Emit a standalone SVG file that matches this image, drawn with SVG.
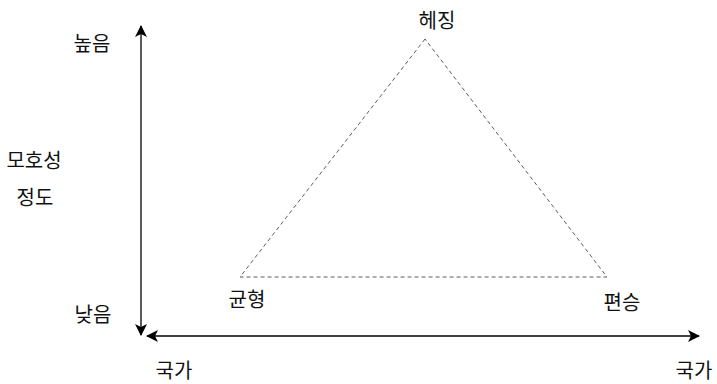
<svg xmlns="http://www.w3.org/2000/svg" width="717" height="384" viewBox="0 0 717 384">
<style>
text{font-family:"Noto Sans CJK KR","Noto Sans CJK SC",sans-serif;font-size:20px;fill:#111;text-anchor:middle}
.axis{stroke:#000;stroke-width:1.3;fill:none}
.tri{stroke:#333;stroke-width:0.8;stroke-dasharray:4 3;fill:none}
</style>
<defs>
<marker id="ah" viewBox="0 0 12 12" refX="11" refY="6" markerWidth="12" markerHeight="12" markerUnits="userSpaceOnUse" orient="auto-start-reverse">
<path d="M0,0 L12,6 L0,12 L3,6 Z" fill="#000"/>
</marker>
</defs>
<rect width="717" height="384" fill="#fff"/>
<g id="connectors">
<line class="axis" x1="141" y1="26" x2="141" y2="335" marker-start="url(#ah)" marker-end="url(#ah)"/>
<line class="axis" x1="147" y1="336" x2="699" y2="336" marker-start="url(#ah)" marker-end="url(#ah)"/>
</g>
<g id="triangle">
<polygon class="tri" points="425,39 240,277 607,277"/>
</g>
<g id="node-hedging"><text x="437" y="28">헤징</text></g>
<g id="node-high"><text x="92" y="51">높음</text></g>
<g id="node-ambiguity"><text x="34" y="168">모호성</text><text x="35" y="205">정도</text></g>
<g id="node-low"><text x="93" y="322">낮음</text></g>
<g id="node-balancing"><text x="247" y="307">균형</text></g>
<g id="node-bandwagoning"><text x="622" y="310">편승</text></g>
<g id="node-state-left"><text x="174" y="378">국가</text></g>
<g id="node-state-right"><text x="694" y="378">국가</text></g>
</svg>
